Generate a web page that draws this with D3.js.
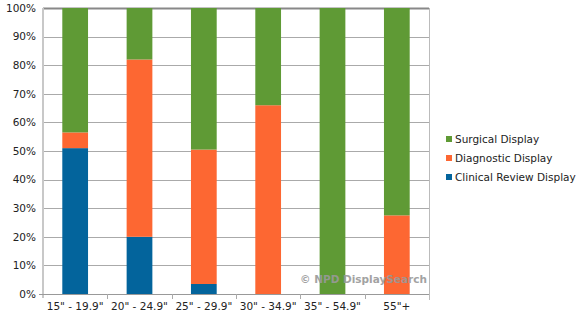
<!DOCTYPE html>
<html>
<head>
<meta charset="utf-8">
<script src="https://cdn.jsdelivr.net/npm/d3@7"></script>
<style>
  body { margin:0; background:#fff; }
  text { font-family:"DejaVu Sans", Verdana, sans-serif; font-size:10.5px; fill:#222; }
</style>
</head>
<body>
<svg id="chart" width="580" height="318"></svg>
<script>
    // screen size categories
    var categories = ['15" - 19.9"', '20" - 24.9"', '25" - 29.9"', '30" - 34.9"', '35" - 54.9"', '55"+'];

    // share per category, in percent
    var clinical   = [51, 20, 3.5, 0, 0, 0];
    var diagnostic = [5.5, 62, 47, 66, 0, 27.5];
    var surgical   = [43.5, 18, 49.5, 34, 100, 72.5];

    var seriesNames = ['Clinical Review Display', 'Diagnostic Display', 'Surgical Display'];
    var colors = ['#03649c', '#fd6732', '#5f9a35'];
    var yTicks = [0, 10, 20, 30, 40, 50, 60, 70, 80, 90, 100];

    var svg = d3.select('#chart'),
        pLeft = 43, pRight = 429, pTop = 8, pBottom = 294;

    var x = d3.scaleBand().domain(categories).range([pLeft, pRight]).paddingInner(0.6).paddingOuter(0.3);
    var band = d3.scaleBand().domain(categories).range([pLeft, pRight]);
    var y = d3.scaleLinear().domain([0, 100]).range([pBottom, pTop]);

    var rows = categories.map(function(c, i) {
        return { cat:c, clinical:clinical[i], diagnostic:diagnostic[i], surgical:surgical[i] };
    });
    var stack = d3.stack().keys(['clinical', 'diagnostic', 'surgical'])(rows);

    /* grid */
    svg.append('g').selectAll('line')
        .data(yTicks).enter()
        .append('line')
            .attr('x1', pLeft).attr('x2', pRight)
            .attr('y1', function(d){ return Math.round(y(d)) + 0.5; })
            .attr('y2', function(d){ return Math.round(y(d)) + 0.5; })
            .style('stroke', function(d){ return d === 100 ? '#888' : '#aaa'; })
            .style('stroke-width', function(d){ return d === 100 ? 2 : 1; });

    svg.append('line')
        .attr('x1', pRight + 0.5).attr('x2', pRight + 0.5)
        .attr('y1', pTop).attr('y2', pBottom + 6)
        .style('stroke', '#bbb');

    /* bars */
    svg.append('g').selectAll('g')
        .data(stack).enter()
        .append('g')
            .style('fill', function(d, i){ return colors[i]; })
        .selectAll('rect')
        .data(function(d){ return d; }).enter()
        .append('rect')
            .attr('x', function(d){ return x(d.data.cat); })
            .attr('width', x.bandwidth())
            .attr('y', function(d){ return y(d[1]); })
            .attr('height', function(d){ return y(d[0]) - y(d[1]); });

    /* axes */
    var yAxis = svg.append('g')
        .attr('transform', 'translate(' + pLeft + ',0)')
        .call(d3.axisLeft(y).tickValues(yTicks).tickSize(0).tickPadding(7)
            .tickFormat(function(d){ return d + '%'; }));
    yAxis.select('.domain').remove();
    yAxis.selectAll('text').style('font-size', '10.5px').style('font-family', '"DejaVu Sans", Verdana, sans-serif').style('fill', '#222');

    svg.append('line')
        .attr('x1', pLeft).attr('x2', pLeft)
        .attr('y1', pTop).attr('y2', pBottom + 4)
        .style('stroke', '#c8c8c8').style('stroke-width', 2);

    svg.append('line')
        .attr('x1', pLeft - 4).attr('x2', pRight)
        .attr('y1', pBottom + 0.5).attr('y2', pBottom + 0.5)
        .style('stroke', '#999');

    svg.append('g').selectAll('line')
        .data(categories.slice(1)).enter()
        .append('line')
            .attr('x1', function(d){ return Math.round(band(d)) + 0.5; })
            .attr('x2', function(d){ return Math.round(band(d)) + 0.5; })
            .attr('y1', pBottom).attr('y2', pBottom + 5)
            .style('stroke', '#aaa');

    svg.append('g').selectAll('text')
        .data(categories).enter()
        .append('text')
            .attr('x', function(d){ return band(d) + band.bandwidth() / 2; })
            .attr('y', pBottom + 16)
            .attr('text-anchor', 'middle')
            .text(function(d){ return d; });

    /* watermark */
    svg.append('text')
        .attr('x', 300).attr('y', 283)
        .style('fill', '#999').style('font-weight', 'bold').style('opacity', 0.9)
        .text('\u00a9 NPD DisplaySearch');

    /* legend, top entry is last series */
    var legend = svg.append('g').selectAll('g')
        .data(seriesNames.slice().reverse()).enter()
        .append('g')
            .attr('transform', function(d, i){ return 'translate(446,' + (140 + i * 19) + ')'; });

    legend.append('rect')
        .attr('x', 0).attr('y', -4).attr('width', 6).attr('height', 6)
        .style('fill', function(d, i){ return colors[2 - i]; });

    legend.append('text')
        .attr('x', 9).attr('y', 3)
        .text(function(d){ return d; });
</script>
</body>
</html>
